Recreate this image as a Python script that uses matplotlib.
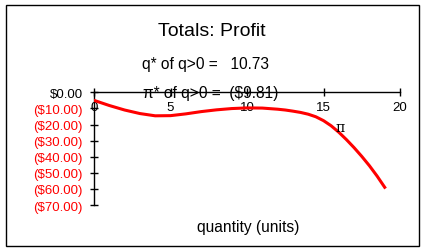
import matplotlib
matplotlib.use('Agg')
import matplotlib.pyplot as plt
from matplotlib.patches import Rectangle

plt.rcParams['font.family'] = ['Liberation Sans', 'DejaVu Sans']

# profit (finer steps where the curve bends down)
quantity = [0, 1, 2, 3, 4, 5, 6, 7, 8, 9, 10, 11, 12,
            12.5, 13, 13.5, 14, 14.5, 15, 15.5, 16, 16.5,
            17, 17.5, 18, 18.5, 19]
profit = [-5.0, -8.2, -11.0, -13.2, -14.6, -14.5, -13.4, -12.0, -10.9,
          -10.1, -9.7, -9.8, -10.5,
          -11.0, -11.7, -12.5, -13.6, -15.2, -17.6, -20.8, -24.8, -29.4,
          -34.4, -39.8, -45.6, -52.0, -59.0]

x_ticks = [0, 5, 10, 15, 20]
y_ticks = [0, -10, -20, -30, -40, -50, -60, -70]

q_star = 10.73
pi_star = -9.81


def money(v):
    if v < 0:
        return '(${:.2f})'.format(-v)
    return '${:.2f}'.format(v)


W, H = 426, 251
fig = plt.figure(figsize=(W / 100, H / 100), dpi=100)

# outer frame
fig.patches.append(Rectangle((6 / W, 1 - 247 / H), 413 / W, 241 / H,
                             transform=fig.transFigure, fill=False,
                             edgecolor='black', linewidth=1))

left, right = 94 / W, 400 / W
top, bottom = 1 - 93.3 / H, 1 - 206 / H
ax = fig.add_axes([left, bottom, right - left, top - bottom])
ax.set_facecolor('none')

ax.plot(quantity, profit, color='#ff0000', linewidth=2.2, zorder=3,
        solid_joinstyle='round')

ax.set_xlim(0, 20)
ax.set_ylim(-70, 0)

ax.spines['top'].set_visible(False)
ax.spines['right'].set_visible(False)
ax.spines['bottom'].set_position(('data', 0))
for s in ('left', 'bottom'):
    ax.spines[s].set_linewidth(1)

ax.set_xticks(x_ticks)
ax.set_xticklabels([str(t) for t in x_ticks])
ax.set_yticks(y_ticks)
ax.set_yticklabels([money(t) for t in y_ticks])

ax.tick_params(axis='both', direction='inout', length=6, width=1,
               labelsize=9.5, colors='black')
ax.tick_params(axis='x', pad=3)
ax.tick_params(axis='y', pad=5)
for lbl, t in zip(ax.get_yticklabels(), y_ticks):
    lbl.set_color('black' if t == 0 else '#ff0000')

ax.text(16.1, -21.5, '\u03c0', fontsize=10, family=['DejaVu Serif'],
        ha='center', va='center')

fig.text(212 / W, 1 - 31.7 / H, 'Totals: Profit', fontsize=14,
         ha='center', va='center')
fig.text(141.7 / W, 1 - 64.3 / H, 'q* of q>0 =   {:.2f}'.format(q_star),
         fontsize=11.2, ha='left', va='center')
fig.text(142.7 / W, 1 - 93.3 / H, '\u03c0* of q>0 =  {}'.format(money(pi_star)),
         fontsize=11.2, ha='left', va='center')
fig.text(248 / W, 1 - 228 / H, 'quantity (units)', fontsize=11.2,
         ha='center', va='center')

fig.savefig('out.png', dpi=100)
